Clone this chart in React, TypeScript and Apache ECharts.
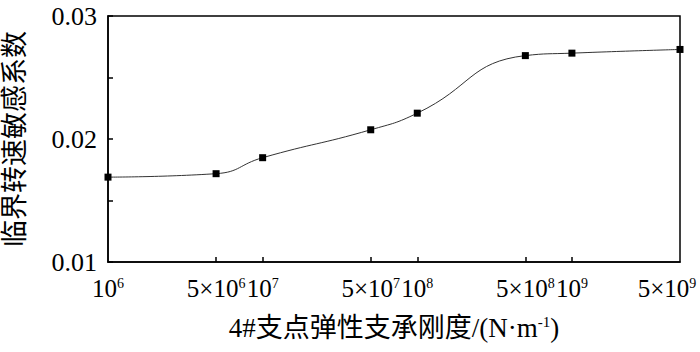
import React, { useEffect, useRef } from "react";
import * as echarts from "echarts";

const stiffness = [1e6, 5e6, 1e7, 5e7, 1e8, 5e8, 1e9, 5e9];
const sensitivity = [0.0169, 0.01718, 0.01848, 0.02075, 0.0221, 0.02678, 0.02698, 0.02728];
const xLabelValues = [1e6, 5e6, 1e7, 5e7, 1e8, 5e8, 1e9, 5e9];
const xTickValues = [5e6, 1e7, 5e7, 1e8, 5e8, 1e9];

const FONT = "'Liberation Serif', 'Times New Roman', 'Noto Sans CJK SC', serif";

function fmtX(v: number): string {
  const e = Math.floor(Math.log10(v) + 1e-9);
  const m = Math.round(v / Math.pow(10, e));
  const isLast = v >= xLabelValues[xLabelValues.length - 1] * 0.999;
  if (m === 1) return `{b|10}{s|${e}}`;
  return isLast ? `{b|${m}×10}{sp|${e}}` : `{b|${m}×10}{s|${e}}`;
}

export default function App() {
  const ref = useRef<HTMLDivElement>(null);
  useEffect(() => {
    if (!ref.current) return;
    const chart = echarts.init(ref.current, null, { renderer: "svg" });
    chart.setOption({
      animation: false,
      backgroundColor: "#fff",
      grid: {
        left: 108,
        right: 20,
        top: 16,
        bottom: 90,
        containLabel: false,
        outerBoundsMode: "none",
        show: true,
        borderColor: "#000",
        borderWidth: 1.5,
      },
      xAxis: {
        type: "log",
        logBase: 10,
        min: 1e6,
        max: 5e9,
        name: "{t|4#支点弹性支承刚度/(N·m}{s|-1}{t|)}",
        nameLocation: "middle",
        nameGap: 52,
        nameTextStyle: {
          rich: {
            t: { fontFamily: FONT, fontSize: 27, color: "#000" },
            s: { fontFamily: FONT, fontSize: 15, color: "#000", verticalAlign: "top" },
          },
        },
        axisLine: { show: true, lineStyle: { color: "#000", width: 1.5 } },
        axisTick: { show: true, inside: true, length: 5, customValues: xTickValues, lineStyle: { color: "#000", width: 1.5 } },
        minorTick: { show: false },
        splitLine: { show: false },
        axisLabel: {
          customValues: xLabelValues,
          margin: 14,
          hideOverlap: false,
          formatter: (v: number) => fmtX(v),
          rich: {
            b: { fontFamily: FONT, fontSize: 25, color: "#000" },
            s: { fontFamily: FONT, fontSize: 14, color: "#000", verticalAlign: "top" },
            sp: { fontFamily: FONT, fontSize: 14, color: "#000", verticalAlign: "top", padding: [0, 26, 0, 0] },
          },
        },
      },
      yAxis: {
        type: "value",
        min: 0.01,
        max: 0.03,
        interval: 0.005,
        name: "临界转速敏感系数",
        nameLocation: "middle",
        nameGap: 80,
        nameTextStyle: { fontFamily: FONT, fontSize: 27, color: "#000" },
        axisLine: { show: true, lineStyle: { color: "#000", width: 1.5 } },
        axisTick: { show: true, inside: true, length: 5, lineStyle: { color: "#000", width: 1.5 } },
        splitLine: { show: false },
        axisLabel: {
          margin: 11,
          fontFamily: FONT,
          fontSize: 26,
          color: "#000",
          formatter: (v: number) => (Math.round(v * 1000) % 10 === 0 ? v.toFixed(2) : ""),
        },
      },
      series: [
        {
          type: "line",
          data: stiffness.map((x, i) => [x, sensitivity[i]]),
          smooth: 0.5,
          symbol: "rect",
          symbolSize: 7,
          itemStyle: { color: "#000" },
          lineStyle: { color: "#333", width: 1 },
        },
      ],
    });
    return () => chart.dispose();
  }, []);
  return <div ref={ref} style={{ width: 700, height: 352, position: "absolute", left: 0, top: 0 }} />;
}
